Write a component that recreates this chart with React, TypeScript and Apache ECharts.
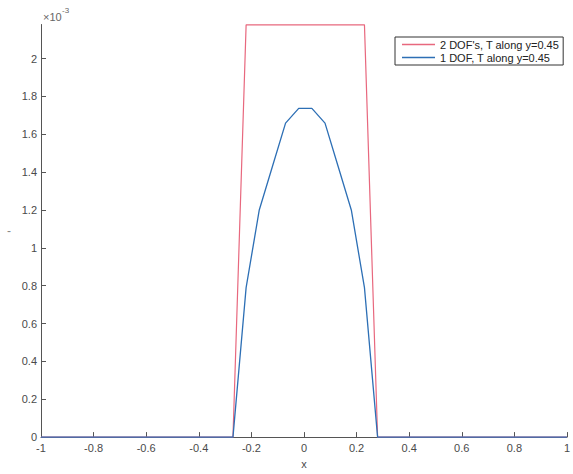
import React, { useEffect, useRef } from "react";
import * as echarts from "echarts";

// Mesh nodes along the line y = 0.45
const xNodes = [-1, -0.27, -0.22, -0.17, -0.12, -0.07, -0.02, 0.03, 0.08, 0.13, 0.18, 0.23, 0.28, 1];
// Values in units of 1e-3
const twoDofValues = [0, 0, 2.178, 2.178, 2.178, 2.178, 2.178, 2.178, 2.178, 2.178, 2.178, 2.178, 0, 0];
const oneDofValues = [0, 0, 0.79, 1.2, 1.43, 1.659, 1.737, 1.737, 1.659, 1.43, 1.2, 0.79, 0, 0];
const seriesNames = ["2 DOF's, T along y=0.45", "1 DOF, T along y=0.45"];

const FONT = "'Liberation Sans', Arial, sans-serif";
const AXIS_COLOR = "#555";
const LABEL_COLOR = "#4a4a4a";

function pairs(xs: number[], ys: number[]) {
  return xs.map((x, i) => [x, ys[i]]);
}

export default function App() {
  const ref = useRef<HTMLDivElement>(null);

  useEffect(() => {
    if (!ref.current) return;
    const chart = echarts.init(ref.current, undefined, { renderer: "svg" });
    chart.setOption({
      animation: false,
      backgroundColor: "#fff",
      textStyle: { fontFamily: FONT },
      grid: { left: 41, right: 2, top: 24.5, bottom: 32, containLabel: false },
      legend: {
        orient: "vertical",
        left: 395,
        top: 37,
        padding: [1, 4, 1, 7],
        itemGap: 0,
        itemWidth: 33,
        itemHeight: 1.5,
        icon: "rect",
        borderColor: "#333",
        borderWidth: 1,
        backgroundColor: "#fff",
        textStyle: { fontSize: 11, color: "#222", fontFamily: FONT, lineHeight: 13 },
        data: seriesNames,
      },
      xAxis: {
        type: "value",
        min: -1,
        max: 1,
        interval: 0.2,
        name: "x",
        nameLocation: "middle",
        nameGap: 20,
        nameTextStyle: { fontSize: 11, color: LABEL_COLOR, fontFamily: FONT },
        axisLine: { show: true, onZero: false, lineStyle: { color: AXIS_COLOR, width: 1 } },
        axisTick: { show: true, inside: true, length: 5, lineStyle: { color: AXIS_COLOR } },
        axisLabel: {
          margin: 5,
          fontSize: 11,
          color: LABEL_COLOR,
          fontFamily: FONT,
          formatter: (v: number) => String(Math.round(v * 10) / 10),
        },
        splitLine: { show: false },
      },
      yAxis: {
        type: "value",
        min: 0,
        max: 2.18,
        interval: 0.2,
        name: "-",
        nameLocation: "middle",
        nameGap: 30,
        nameRotate: 0,
        nameTextStyle: { fontSize: 12, color: "#888", fontFamily: FONT },
        axisLine: { show: true, onZero: false, lineStyle: { color: AXIS_COLOR, width: 1 } },
        axisTick: { show: true, inside: true, length: 5, lineStyle: { color: AXIS_COLOR } },
        axisLabel: {
          margin: 4,
          fontSize: 11,
          color: LABEL_COLOR,
          fontFamily: FONT,
          showMaxLabel: false,
          formatter: (v: number) => {
            const r = Math.round(v * 10) / 10;
            return Math.abs(r - v) < 1e-6 ? String(r) : "";
          },
        },
        splitLine: { show: false },
      },
      graphic: [
        {
          type: "text",
          left: 43,
          top: 11,
          style: { text: "×10", fontSize: 11, fill: "#666", fontFamily: FONT },
        },
        {
          type: "text",
          left: 62,
          top: 6,
          style: { text: "-3", fontSize: 8, fill: "#666", fontFamily: FONT },
        },
      ],
      series: [
        {
          name: seriesNames[0],
          type: "line",
          data: pairs(xNodes, twoDofValues),
          symbol: "none",
          clip: false,
          lineStyle: { color: "#e8687e", width: 1.2 },
          itemStyle: { color: "#e8687e" },
        },
        {
          name: seriesNames[1],
          type: "line",
          data: pairs(xNodes, oneDofValues),
          symbol: "none",
          clip: false,
          lineStyle: { color: "#2d6fb5", width: 1.3 },
          itemStyle: { color: "#2d6fb5" },
        },
      ],
    });
    return () => chart.dispose();
  }, []);

  return (
    <div
      ref={ref}
      style={{ position: "absolute", left: 0, top: 0, width: 573, height: 474 }}
    />
  );
}
